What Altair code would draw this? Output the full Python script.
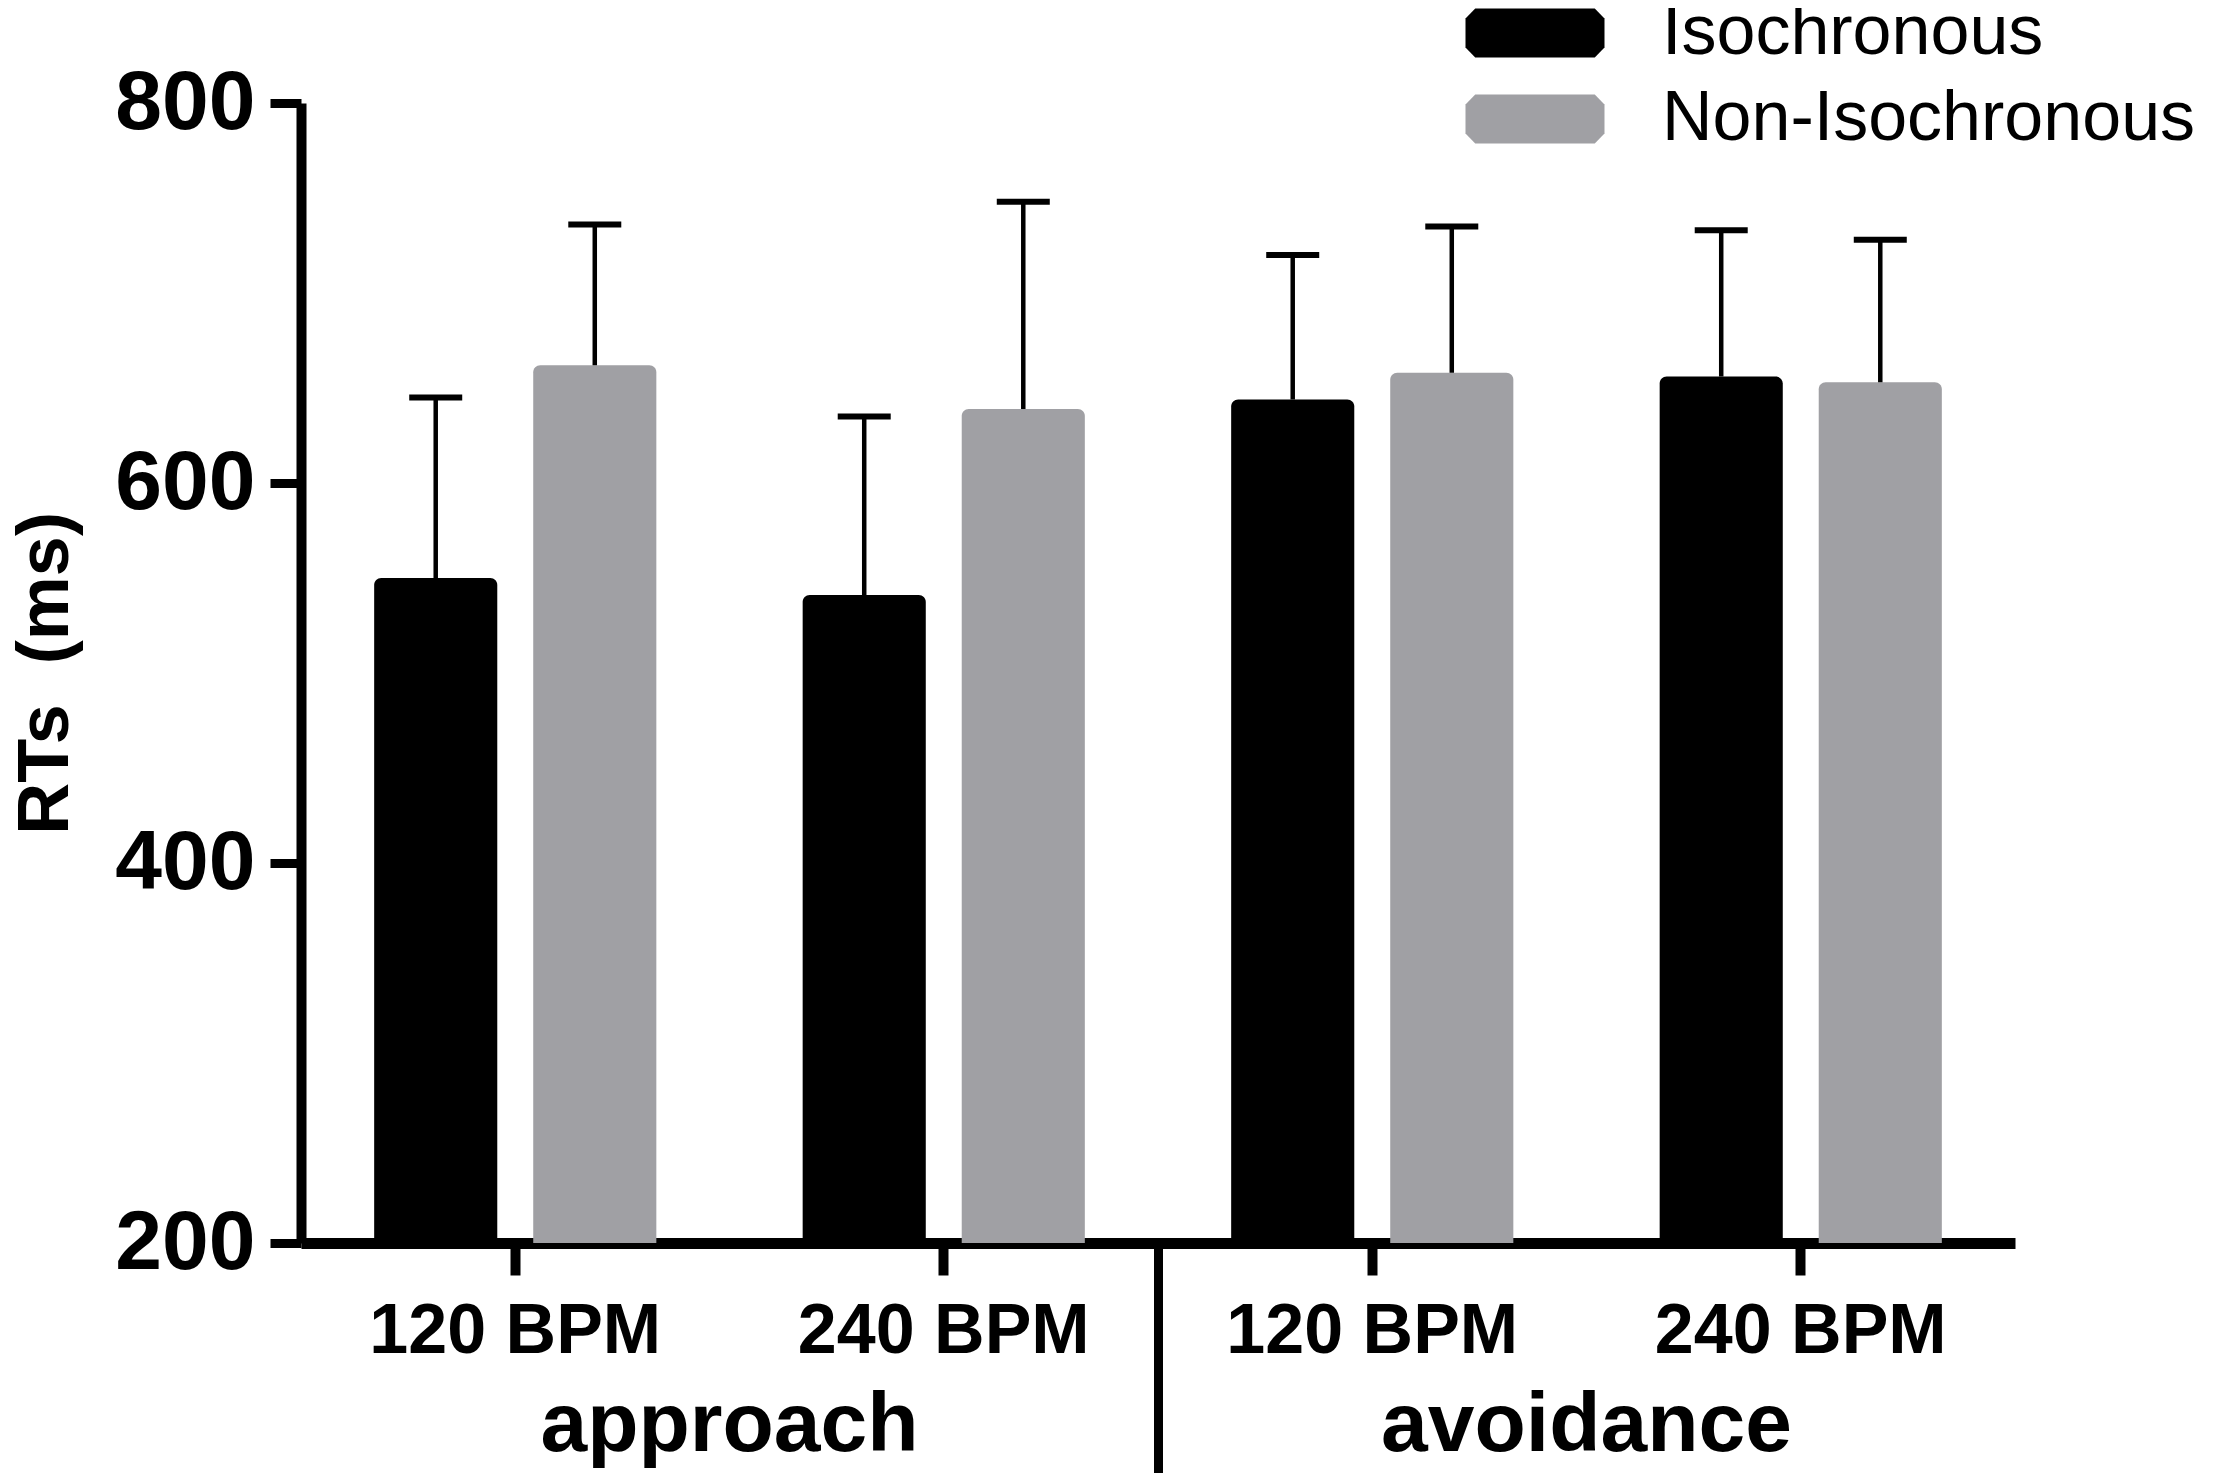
import altair as alt
import pandas as pd

groups = ["approach", "approach", "approach", "approach",
          "avoidance", "avoidance", "avoidance", "avoidance"]
rates = ["120 BPM", "120 BPM", "240 BPM", "240 BPM",
         "120 BPM", "120 BPM", "240 BPM", "240 BPM"]
series = ["Isochronous", "Non-Isochronous"] * 4
means = [550, 662, 541, 639, 644, 658, 656, 653]
errors = [95, 74, 94, 109, 76, 77, 77, 75]

series_order = ["Isochronous", "Non-Isochronous"]
colors = ["#000000", "#a0a0a4"]
group_order = ["approach", "avoidance"]

df = pd.DataFrame({"group": groups, "rate": rates, "series": series,
                   "mean": means, "err": errors})
df["key"] = df["group"] + "|" + df["rate"]
df["upper"] = df["mean"] + df["err"]
df["base"] = 200
key_order = list(dict.fromkeys(df["key"]))

FONT = "Liberation Sans"

yscale = alt.Scale(domain=[200, 800], zero=False, nice=False)
yaxis = alt.Axis(values=[200, 400, 600, 800], grid=False, labelFontSize=84,
                 labelFont=FONT, labelFontWeight="bold", labelColor="black",
                 labelPadding=15, tickSize=31, tickWidth=9, tickColor="black",
                 domainWidth=10, domainColor="black", labelLimit=1000,
                 title="RTs\u00a0\u00a0(ms)", titleFont=FONT, titleFontSize=72,
                 titleFontWeight="bold", titleColor="black", titlePadding=32)

xenc = alt.X("key:N", sort=key_order,
             scale=alt.Scale(paddingInner=0, paddingOuter=0),
             axis=alt.Axis(orient="bottom", title=None, labelAngle=0,
                           labelExpr="split(datum.label, '|')[1]",
                           labelFont=FONT, labelFontSize=70, labelFontWeight="bold",
                           labelColor="black", labelPadding=22, labelLimit=1000,
                           tickSize=32, tickWidth=10, tickColor="black",
                           domainWidth=11, domainColor="black"))
xoff = alt.XOffset("series:N", sort=series_order,
                   scale=alt.Scale(paddingInner=0.226, paddingOuter=0.46))

sym = ("M-1.72,-0.706L1.72,-0.706L2,-0.42L2,0.42L1.72,0.706L-1.72,0.706"
       "L-2,0.42L-2,-0.42Z")

bars = alt.Chart(df).mark_bar(cornerRadiusTopLeft=7, cornerRadiusTopRight=7).encode(
    x=xenc, xOffset=xoff,
    y=alt.Y("mean:Q", scale=yscale, axis=yaxis),
    y2=alt.Y2("base:Q"),
    color=alt.Color("series:N", sort=series_order,
                    scale=alt.Scale(domain=series_order, range=colors),
                    legend=alt.Legend(orient="none", legendX=1199, legendY=-105,
                                      title=None, symbolType=sym, symbolSize=4830,
                                      symbolStrokeWidth=0, labelFont=FONT,
                                      labelFontSize=70, labelColor="black",
                                      labelLimit=1000,
                                      labelOffset=92, rowPadding=16)),
)

rules = alt.Chart(df).mark_rule(color="black", strokeWidth=4.5).encode(
    x=xenc, xOffset=xoff, y=alt.Y("mean:Q"), y2=alt.Y2("upper:Q"))

caps = alt.Chart(df).mark_tick(color="black", thickness=6, size=53,
                               orient="horizontal", opacity=1).encode(
    x=xenc, xOffset=xoff, y=alt.Y("upper:Q"))

main = alt.layer(bars, rules, caps)

grp_labels = alt.Chart(df).mark_rule(opacity=0).encode(
    x=alt.X("group:N", sort=group_order,
            scale=alt.Scale(paddingInner=0, paddingOuter=0),
            axis=alt.Axis(orient="bottom", title=None, domain=False, ticks=False,
                          tickSize=0, labelAngle=0, labelFont=FONT,
                          labelFontSize=84, labelFontWeight="bold",
                          labelColor="black", labelPadding=141, labelLimit=1000)))

divider = alt.Chart(df).mark_rule(opacity=0).encode(
    x=alt.X("group:N", sort=group_order,
            scale=alt.Scale(paddingInner=0, paddingOuter=0),
            axis=alt.Axis(orient="bottom", title=None, domain=False, labels=False,
                          values=["avoidance"], bandPosition=0, tickSize=232,
                          tickWidth=9, tickColor="black")))

chart = alt.layer(main, grp_labels, divider).resolve_scale(x="independent").properties(
    width=1714, height=1140,
    autosize=alt.AutoSizeParams(type="none"),
    padding={"left": 293, "top": 95, "right": 194, "bottom": 230},
    background="white",
).configure_view(stroke=None)

chart.save("out.html", embed_options={"renderer": "svg", "actions": False})
